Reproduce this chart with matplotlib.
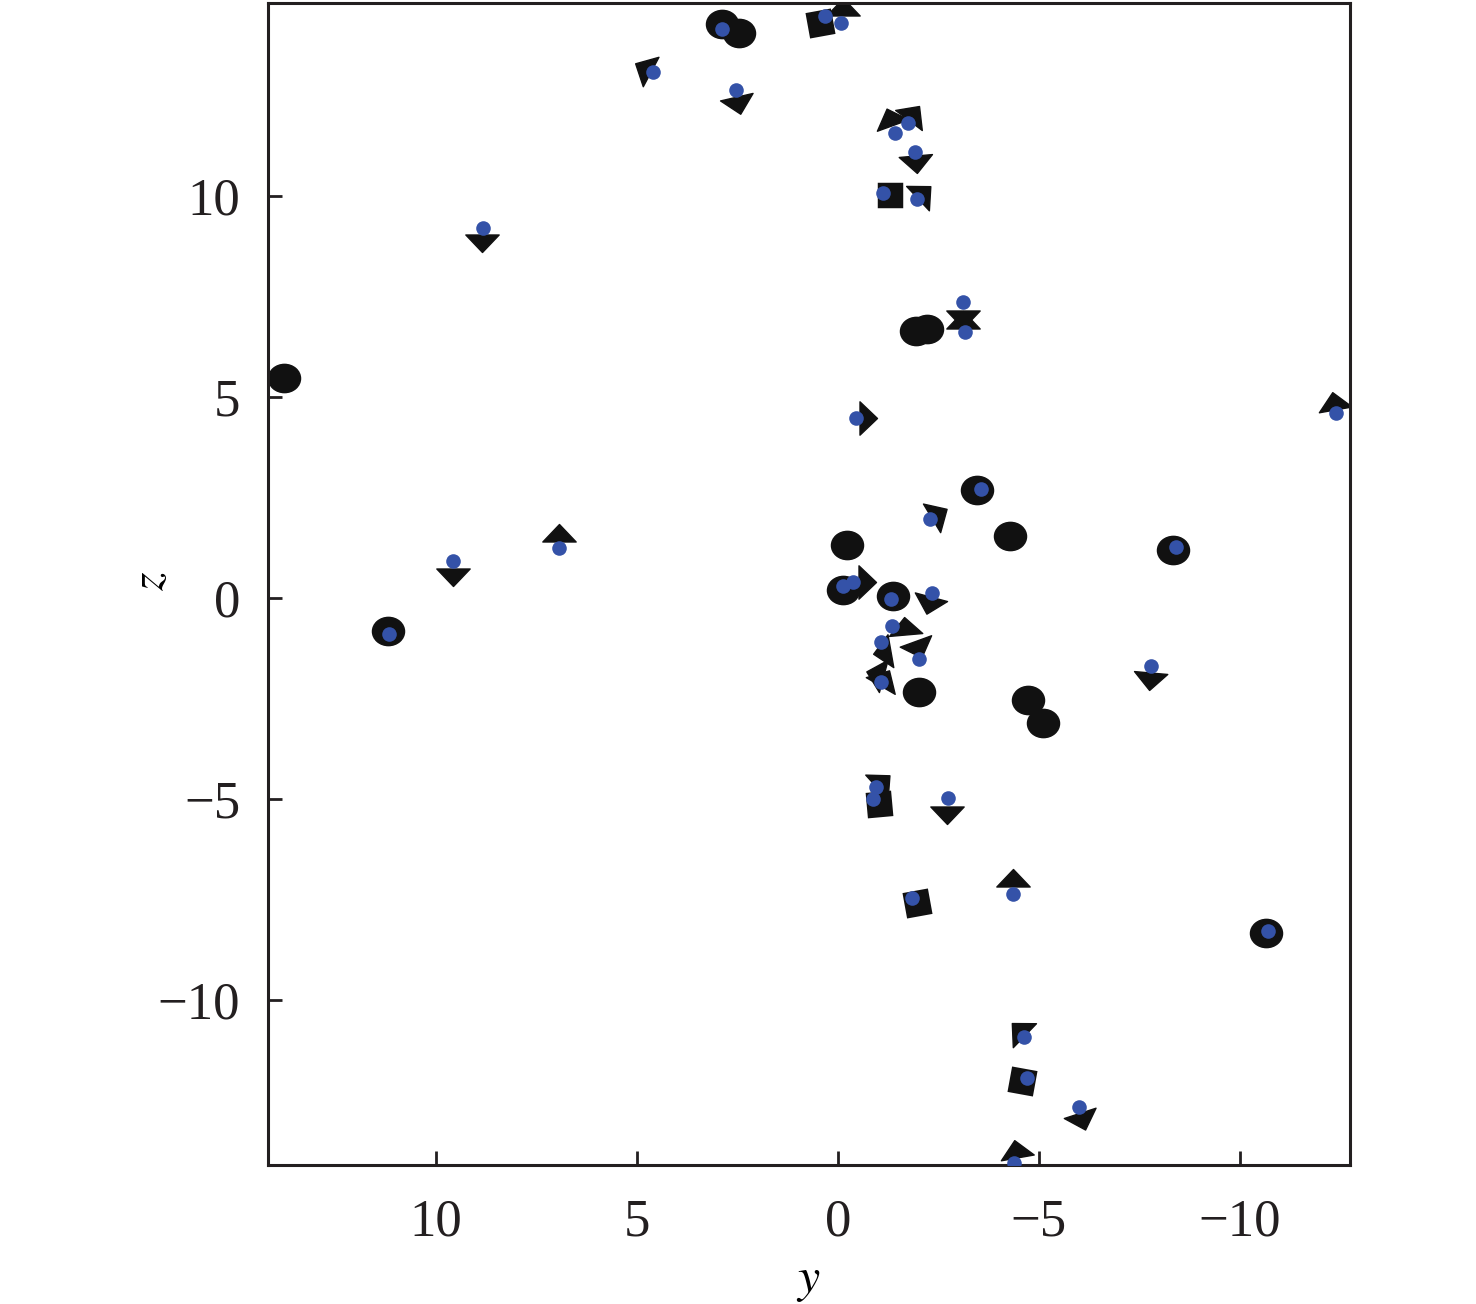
import matplotlib
matplotlib.use("Agg")
import matplotlib.pyplot as plt
from matplotlib.markers import MarkerStyle
from matplotlib.path import Path
from matplotlib.transforms import Affine2D

# ---- data (y, z) ----
circle_y = [13.78, 11.19, 2.89, 2.46, -1.95, -2.22, -3.46, -4.28, -0.22, -8.34, -0.12, -1.37, -2.01, -4.73, -5.10, -10.66]
circle_z = [5.47, -0.82, 14.28, 14.06, 6.65, 6.70, 2.69, 1.54, 1.32, 1.20, 0.20, 0.05, -2.34, -2.54, -3.10, -8.32]

square_y = [0.45, -1.29, -1.02, -1.97, -4.58]
square_z = [14.30, 10.02, -5.12, -7.59, -12.01]
square_angle = [8, 0, 5, 12, -12]

tri_y = [8.86, 9.58, 6.94, 4.83, 2.49, -0.12, -1.29, -1.86, -1.94, -2.11, -3.11, -3.11, -0.72,
         -12.34, -2.49, -0.70, -2.26, -1.67, -1.12, -1.99, -0.95, -1.15, -7.76, -1.09, -2.71,
         -4.35, -4.50, -6.07, -4.43]
tri_z = [8.85, 0.55, 1.59, 13.18, 12.29, 14.68, 11.94, 12.04, 10.82, 10.07, 6.90, 6.97, 4.48,
         4.88, 2.09, 0.40, -0.15, -0.72, -1.34, -1.24, -1.90, -2.02, -2.04, -4.58, -5.37,
         -6.99, -10.75, -12.99, -13.73]
tri_angle = [180, 180, 0, 62, 193, 0, 20, 323, 185, 313, 0, 180, 270,
             10, 301, 270, 165, 5, 100, 200, 75, 330, 175, 312, 180,
             0, 46, 198, 10]

blue_y = [11.17, 8.83, 9.58, 6.94, 4.60, 2.54, 2.89, 0.32, -0.07, -1.42, -1.74, -1.92, -1.12,
          -1.97, -3.11, -3.16, -0.44, -12.39, -3.56, -2.29, -8.41, -0.12, -0.37, -1.32, -2.34,
          -1.34, -1.07, -2.01, -1.07, -7.79, -0.94, -0.87, -2.74, -1.84, -4.35, -10.70, -4.63,
          -4.70, -6.00, -4.38]
blue_z = [-0.90, 9.20, 0.92, 1.24, 13.08, 12.64, 14.15, 14.48, 14.30, 11.57, 11.82, 11.10, 10.07,
          9.93, 7.36, 6.62, 4.48, 4.60, 2.71, 1.97, 1.27, 0.30, 0.40, -0.02, 0.12,
          -0.70, -1.09, -1.52, -2.09, -1.69, -4.69, -5.00, -4.98, -7.46, -7.36, -8.28, -10.92,
          -11.94, -12.66, -14.05]

xticks = [10, 5, 0, -5, -10]
yticks = [-10, -5, 0, 5, 10]

# ---- figure ----
plt.rcParams['font.family'] = ['Liberation Serif', 'DejaVu Serif']
plt.rcParams['mathtext.fontset'] = 'stix'

fig = plt.figure(figsize=(14.76, 13.04), dpi=100)
ax = fig.add_axes([0.1816, 0.1066, 0.7330, 0.8911])

tri_path = Path([(0, 0.6), (-1, -0.45), (1, -0.45), (0, 0.6)],
                [Path.MOVETO, Path.LINETO, Path.LINETO, Path.CLOSEPOLY])

black = '#111111'
for y, z in zip(circle_y, circle_z):
    m = MarkerStyle('o', transform=Affine2D().scale(1.1, 0.97))
    ax.plot(y, z, marker=m, ms=21, color=black, mec=black, mew=1, ls='none', zorder=2)

for y, z, a in zip(square_y, square_z, square_angle):
    m = MarkerStyle('s', transform=Affine2D().rotate_deg(a))
    ax.plot(y, z, marker=m, ms=16, color=black, mec=black, mew=2.5, ls='none', zorder=2)

for y, z, a in zip(tri_y, tri_z, tri_angle):
    m = MarkerStyle(tri_path, transform=Affine2D().rotate_deg(a))
    ax.plot(y, z, marker=m, ms=24, color=black, mec=black, mew=1, ls='none', zorder=2)

ax.plot(blue_y, blue_z, 'o', ms=10.5, color='#3452a8', mec='none', ls='none', zorder=3)

ax.set_xlim(14.18, -12.74)
ax.set_ylim(-14.1, 14.8)
ax.set_xticks(xticks)
ax.set_yticks(yticks)
ax.set_xticklabels([str(t).replace('-', '\u2212') for t in xticks])
ax.set_yticklabels([str(t).replace('-', '\u2212') for t in yticks])

for s in ax.spines.values():
    s.set_linewidth(2.2)
    s.set_color('#231f20')
ax.tick_params(direction='in', length=10, width=2, labelsize=38, pad=20,
               colors='#231f20', top=False, right=False)
ax.tick_params(axis='x', pad=24)

ax.set_xlabel('$y$', fontsize=36)
ax.set_ylabel('$z$', fontsize=34)
ax.xaxis.set_label_coords(0.499, -0.080)
ax.yaxis.set_label_coords(-0.088, 0.503)

fig.savefig('out.png', dpi=100)
